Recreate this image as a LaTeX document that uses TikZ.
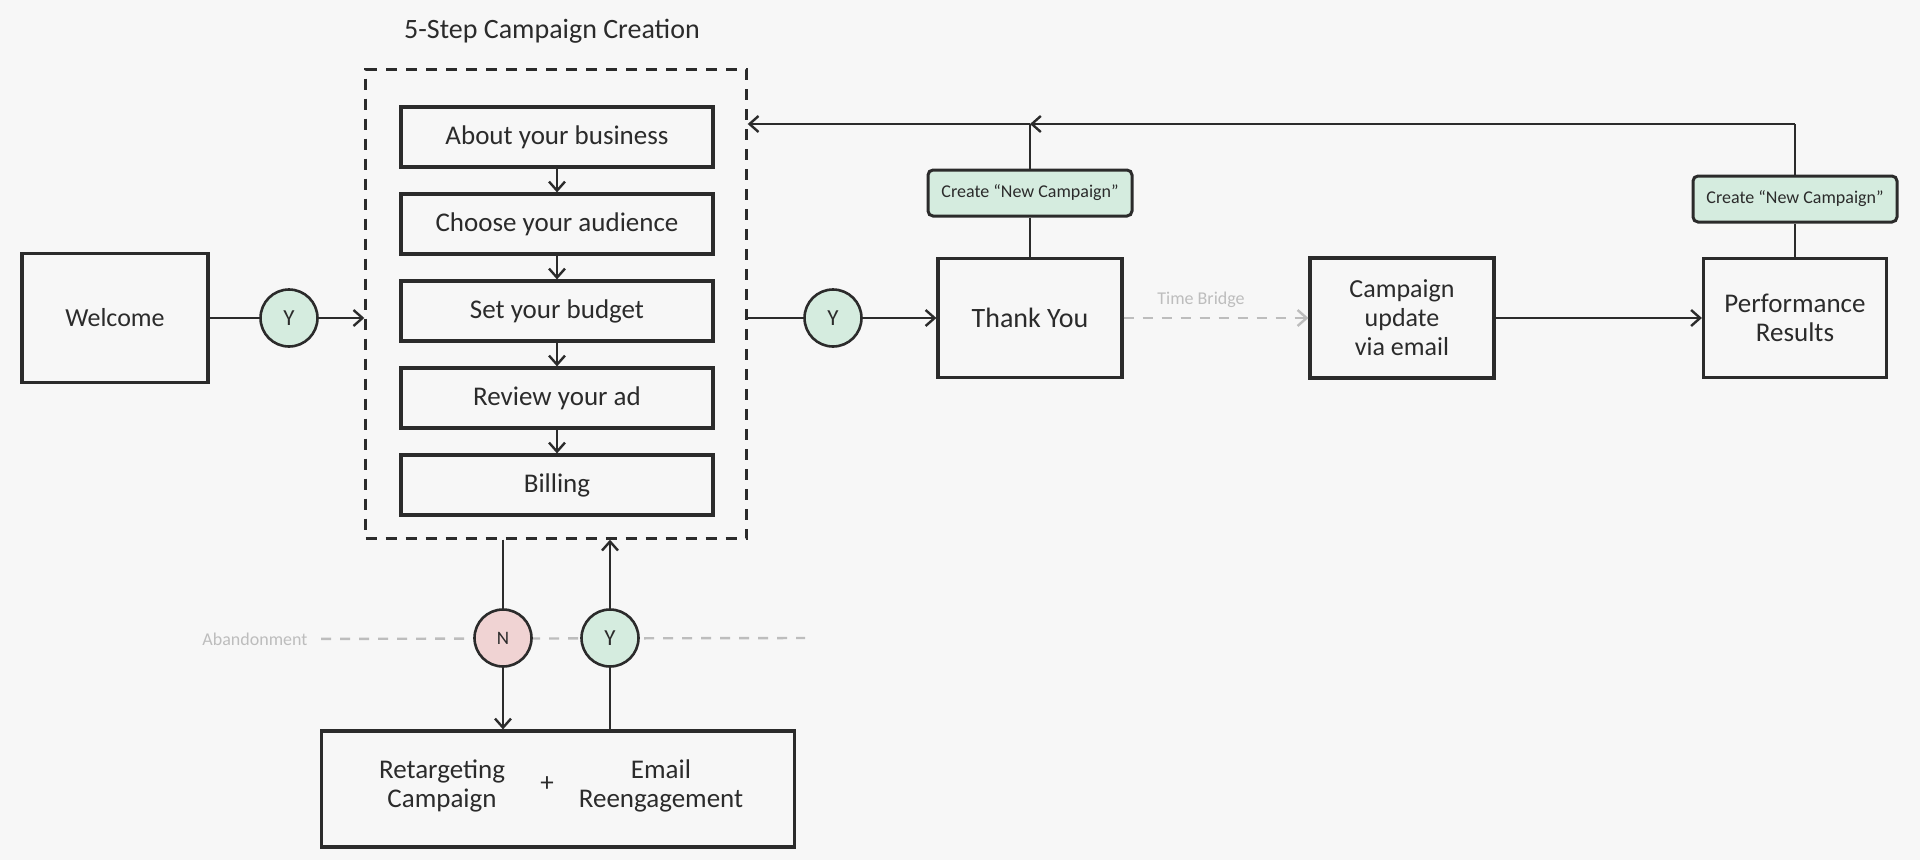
\documentclass[tikz,border=0pt]{standalone}
\usepackage{fontspec}
\setmainfont{Carlito}
\usepackage{xcolor}
\usetikzlibrary{
    arrows.meta,
    shapes,
    calc,
    positioning
}
\definecolor{ink}{HTML}{2B2B2B}
\definecolor{paper}{HTML}{F7F7F7}
\definecolor{mint}{HTML}{D5ECDF}
\definecolor{blush}{HTML}{F0D3D3}
\definecolor{faint}{HTML}{BDBDBD}

\begin{document}
\begin{tikzpicture}[x=1pt, y=-1pt,
    >={Straight Barb[length=9pt,width=16pt,line width=2.4pt]},
    box/.style={draw=ink, line width=3.2pt, fill=paper, inner sep=0pt, align=center, text=ink, font=\fontsize{26}{29}\selectfont},
    stepbox/.style={box, minimum width=312, minimum height=60, font=\fontsize{27}{30}\selectfont},
    boxtext/.style={align=center, text=ink, font=\fontsize{27}{29}\selectfont},
    tag/.style={draw=ink, line width=3pt, fill=mint, rounded corners=5pt, minimum width=204, minimum height=46, text=ink, font=\fontsize{18}{20}\selectfont},
    yes/.style={circle, draw=ink, line width=2.6pt, fill=mint, minimum size=57, inner sep=0pt, text=ink, font=\fontsize{23}{24}\selectfont},
    no/.style={yes, fill=blush, font=\fontsize{19}{20}\selectfont},
    group/.style={draw=ink, line width=2.4pt, dash pattern=on 11pt off 9pt, minimum width=381, minimum height=469},
    wire/.style={draw=ink, line width=2.6pt},
    bridge/.style={draw=faint, line width=2.4pt, dash pattern=on 10pt off 9pt},
    hint/.style={text=faint, font=\fontsize{18}{20}\selectfont}
]
    \fill[paper] (0,0) rectangle (1920,860);
    \useasboundingbox (0,0) rectangle (1920,860);

    \node[text=ink, font=\fontsize{28}{30}\selectfont] (title) at (552,31) {5-Step Campaign Creation};
    \node[group] (steps) at (556,304) {};
    \node[stepbox] (about) at (557,137) {About your business};
    \node[stepbox] (audience) at (557,224) {Choose your audience};
    \node[stepbox] (budget) at (557,311) {Set your budget};
    \node[stepbox] (review) at (557,398) {Review your ad};
    \node[stepbox] (billing) at (557,485) {Billing};

    \node[box, minimum width=186, minimum height=129] (welcome) at (115,318) {Welcome};
    \node[yes] (yesA) at (289,318) {Y};
    \node[yes] (yesB) at (833,318) {Y};
    \node[box, minimum width=184, minimum height=119, font=\fontsize{28}{30}\selectfont] (thanks) at (1030,318) {Thank You};
    \node[tag] (newA) at (1030,193) {Create “New Campaign”};
    \node[box, minimum width=184, minimum height=120] (update) at (1402,318) {Campaign\\update\\via email};
    \node[box, minimum width=183, minimum height=119, font=\fontsize{27}{29}\selectfont] (perf) at (1795,318) {Performance\\Results};
    \node[tag] (newB) at (1795,199) {Create “New Campaign”};
    \coordinate (loopA) at (1030,124);
    \coordinate (loopB) at (1795,124);

    \node[hint] (abandon) at (255,639) {Abandonment};
    \coordinate (abandonEnd) at (805,638);
    \draw[bridge, shorten <=10pt] (abandon) -- (abandonEnd);
    \node[no] (noC) at (503,638) {N};
    \node[yes] (yesC) at (610,638) {Y};
    \node[box, minimum width=473, minimum height=116] (rescue) at (558,789) {};
    \node[boxtext] (retarget) at (442,786) {Retargeting\\Campaign};
    \node[boxtext] (plus) at (547,784) {+};
    \node[boxtext] (reengage) at (661,786) {Email\\Reengagement};

    \draw[wire]
    (about) edge[->] (audience)
    (audience) edge[->] (budget)
    (budget) edge[->] (review)
    (review) edge[->] (billing)
    (welcome) edge (yesA)
    (yesA) edge[->] (yesA -| steps.west)
    (yesB -| steps.east) edge (yesB)
    (yesB) edge[->] (thanks)
    (update) edge[->] (perf)
    (thanks) edge (newA)
    (newA) edge (loopA)
    (loopA) edge[->] (loopA -| steps.east)
    (perf) edge (newB)
    (newB) edge (loopB)
    (loopB) edge[->] (loopA)
    (noC |- steps.south) edge (noC)
    (noC) edge[->] (noC |- rescue.north)
    (yesC |- rescue.north) edge (yesC)
    (yesC) edge[->] (yesC |- steps.south);

    \draw[bridge, ->] (thanks) -- (update);
    \node[hint] (bridgeNote) at (1201,300) {Time Bridge};
\end{tikzpicture}
\end{document}
